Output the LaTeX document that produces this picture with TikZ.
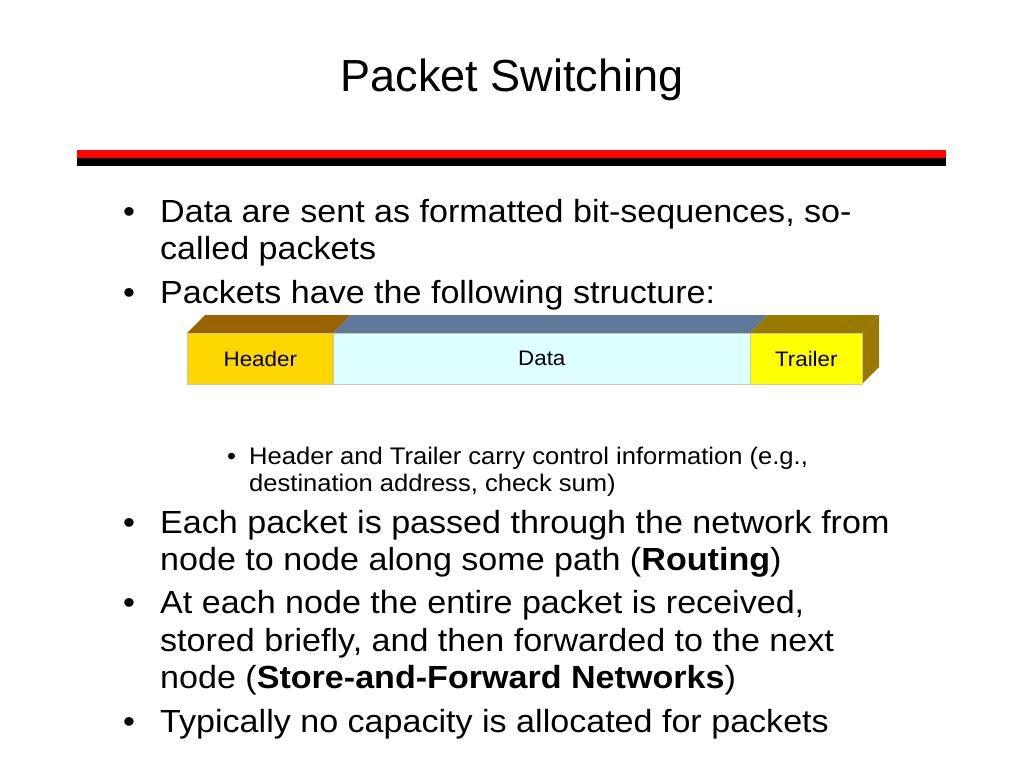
\documentclass[tikz,border=0pt]{standalone}
\usepackage{fontspec}
\setmainfont[FakeStretch=1.065]{Liberation Sans}
\newfontfamily\titlefont{Liberation Sans}
\begin{document}
\begin{tikzpicture}[x=1pt,y=-1pt,
  body/.style={anchor=base west,inner sep=0pt,font=\fontsize{32}{36}\selectfont},
  sub/.style={anchor=base west,inner sep=0pt,font=\fontsize{24}{27}\selectfont},
  lbl/.style={inner sep=0pt,font=\fontsize{21}{24}\selectfont},
  bul/.style={anchor=base west,inner sep=0pt},
  face/.style={draw=edge,line width=0.6pt,minimum height=51pt,anchor=north west,inner sep=0pt}]
\definecolor{hdrfront}{RGB}{255,215,0}
\definecolor{hdrtop}{RGB}{153,100,0}
\definecolor{datafront}{RGB}{221,255,255}
\definecolor{datatop}{RGB}{94,121,153}
\definecolor{trlfront}{RGB}{255,255,0}
\definecolor{trltop}{RGB}{153,122,0}
\definecolor{edge}{RGB}{200,200,170}
\useasboundingbox[fill=white] (0,0) rectangle (1024,768);
% title
\node[anchor=base,inner sep=0pt,font=\titlefont\fontsize{45}{50}\selectfont] (title) at (512,91) {Packet Switching};
% bars
\fill[red] (77,149.5) rectangle (946,158);
\fill[black] (77,158) rectangle (946,166);
% bullets
\node[bul,font=\fontsize{32}{36}\selectfont] (b1) at (123,222) {•};
\node[body] (t1a) at (160,222) {Data are sent as formatted bit-sequences, so-};
\node[body] (t1b) at (160,259) {called packets};
\node[bul,font=\fontsize{32}{36}\selectfont] (b2) at (123,303) {•};
\node[body] (t2) at (160,303) {Packets have the following structure:};
% packet
\fill[hdrtop] (187,333) -- (205,315) -- (351,315) -- (333,333) -- cycle;
\fill[datatop] (333,333) -- (351,315) -- (768,315) -- (750,333) -- cycle;
\fill[trltop] (750,333) -- (768,315) -- (879,315) -- (862,333) -- cycle;
\fill[trltop] (862,333) -- (879,315) -- (879,367) -- (862,384) -- cycle;
\node[face,fill=hdrfront,minimum width=146pt] (hdr) at (187,333) {};
\node[face,fill=datafront,minimum width=417pt] (dat) at (333,333) {};
\node[face,fill=trlfront,minimum width=112pt] (trl) at (750,333) {};
\node[lbl] (hdrl) at (hdr.center) {Header};
\node[lbl] (datl) at (dat.center) {Data};
\node[lbl] (trll) at (trl.center) {Trailer};
% sub bullet
\node[bul,font=\fontsize{24}{27}\selectfont] (sb) at (227,464) {•};
\node[sub] (s1a) at (249,464) {Header and Trailer carry control information (e.g.,};
\node[sub] (s1b) at (249,491) {destination address, check sum)};
% more bullets
\node[bul,font=\fontsize{32}{36}\selectfont] (b3) at (123,533) {•};
\node[body] (t3a) at (160,533) {Each packet is passed through the network from};
\node[body] (t3b) at (160,570) {node to node along some path (\textbf{Routing})};
\node[bul,font=\fontsize{32}{36}\selectfont] (b4) at (123,613) {•};
\node[body] (t4a) at (160,613) {At each node the entire packet is received,};
\node[body] (t4b) at (160,651) {stored briefly, and then forwarded to the next};
\node[body] (t4c) at (160,688) {node (\textbf{Store-and-Forward Networks})};
\node[bul,font=\fontsize{32}{36}\selectfont] (b5) at (123,732) {•};
\node[body] (t5) at (160,732) {Typically no capacity is allocated for packets};
\end{tikzpicture}
\end{document}
